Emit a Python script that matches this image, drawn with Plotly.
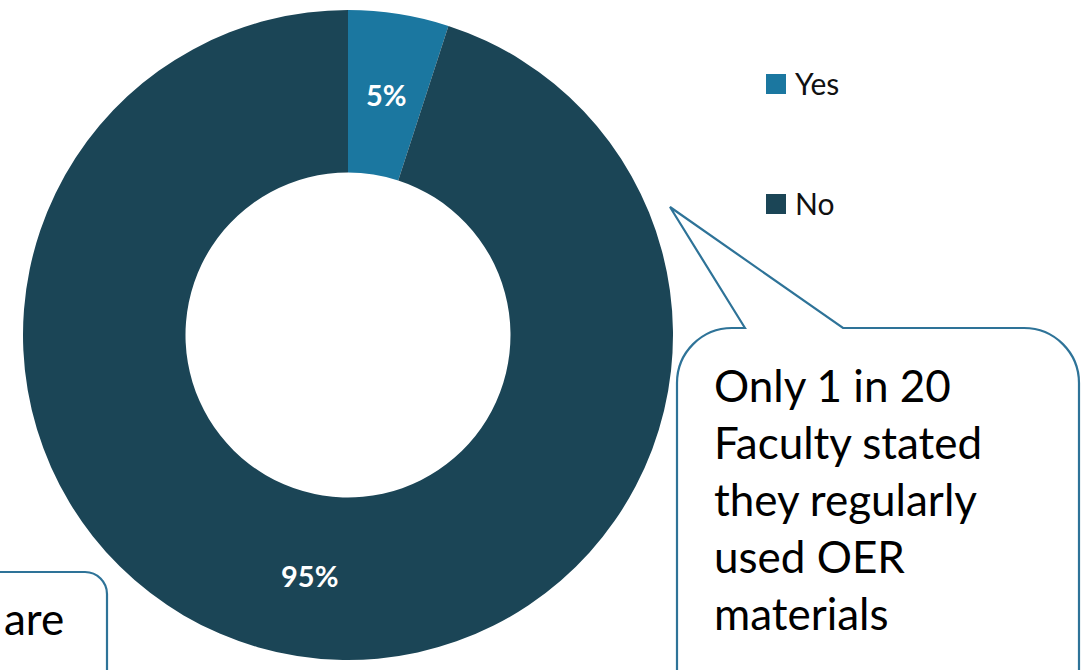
import math
import plotly.graph_objects as go

# ---- data ----
labels = ["Yes", "No"]
values = [5, 95]
colors = ["#1B77A0", "#1B4556"]

callout_lines = ["Only 1 in 20", "Faculty stated", "they regularly", "used OER", "materials"]
left_callout_text = "are"

W, H = 1086, 670
FONT = "Lato"
BORDER = "#2E7398"

# donut geometry (pixels)
CX, CY, R_OUT = 348, 335, 325
HOLE = 0.5


def X(px):
    return px / W


def Y(py):
    return 1 - py / H


def path(points_cmds):
    out = []
    for cmd, *pts in points_cmds:
        coords = " ".join(f"{X(a):.5f},{Y(b):.5f}" for a, b in pts)
        out.append(f"{cmd} {coords}" if coords else cmd)
    return " ".join(out)


k = 0.5523

fig = go.Figure()

fig.add_trace(go.Pie(
    labels=labels,
    values=values,
    hole=HOLE,
    sort=False,
    direction="clockwise",
    rotation=0,
    marker=dict(colors=colors, line=dict(width=0)),
    textinfo="none",
    domain=dict(x=[X(CX - R_OUT), X(CX + R_OUT)], y=[Y(CY + R_OUT), Y(CY - R_OUT)]),
    showlegend=False,
    hoverinfo="label+percent",
))

shapes = []
annotations = []

# percentage labels placed at the middle of each ring segment
total = sum(values)
r_mid = R_OUT * (1 + HOLE) / 2
cum = 0
for v in values:
    mid = (cum + v / 2) / total * 2 * math.pi
    cum += v
    px = CX + r_mid * math.sin(mid)
    py = CY - r_mid * math.cos(mid)
    annotations.append(dict(x=X(px), y=Y(py), xref="paper", yref="paper",
                            text=f"{round(100 * v / total)}%", showarrow=False,
                            xanchor="center", yanchor="middle",
                            font=dict(family=FONT, size=29, color="white", weight="bold")))

# legend (manual, to reproduce the wide spacing)
legend_y = [84, 204]
for lab, col, cy in zip(labels, colors, legend_y):
    shapes.append(dict(type="rect", xref="paper", yref="paper",
                       x0=X(766), x1=X(786), y0=Y(cy + 10), y1=Y(cy - 10),
                       fillcolor=col, line=dict(width=0)))
    annotations.append(dict(x=X(793), y=Y(cy - 1), xref="paper", yref="paper",
                            text=lab, showarrow=False, xanchor="left", yanchor="middle",
                            font=dict(family=FONT, size=30, color="#111111")))

# big speech-bubble callout
r = 55
L, R, T, B = 677, 1079, 328, 700
big = path([
    ("M", (745, T)),
    ("L", (670, 207)),
    ("L", (843, T)),
    ("L", (R - r, T)),
    ("C", (R - r + r * k, T), (R, T + r - r * k), (R, T + r)),
    ("L", (R, B)),
    ("L", (L, B)),
    ("L", (L, T + r)),
    ("C", (L, T + r - r * k), (L + r - r * k, T), (L + r, T)),
    ("Z",),
])
shapes.append(dict(type="path", xref="paper", yref="paper", path=big,
                   fillcolor="white", line=dict(color=BORDER, width=2.2)))

line_centers = [385, 442, 499, 556, 613]
for txt, cy in zip(callout_lines, line_centers):
    annotations.append(dict(x=X(712), y=Y(cy), xref="paper", yref="paper",
                            text=txt, showarrow=False, xanchor="left", yanchor="middle",
                            font=dict(family=FONT, size=44, color="#000000")))

# small callout at bottom-left (partially visible)
r2 = 22
L2, R2, T2, B2 = -20, 107, 572, 700
small = path([
    ("M", (L2, T2)),
    ("L", (R2 - r2, T2)),
    ("C", (R2 - r2 + r2 * k, T2), (R2, T2 + r2 - r2 * k), (R2, T2 + r2)),
    ("L", (R2, B2)),
    ("L", (L2, B2)),
    ("Z",),
])
shapes.append(dict(type="path", xref="paper", yref="paper", path=small,
                   fillcolor="white", line=dict(color=BORDER, width=2.2)))
annotations.append(dict(x=X(2), y=Y(618), xref="paper", yref="paper",
                        text=left_callout_text, showarrow=False, xanchor="left", yanchor="middle",
                        font=dict(family=FONT, size=44, color="#000000")))

fig.update_layout(
    width=W, height=H,
    margin=dict(l=0, r=0, t=0, b=0),
    paper_bgcolor="white",
    plot_bgcolor="white",
    shapes=shapes,
    annotations=annotations,
    showlegend=False,
)

fig.write_html("out.html")
